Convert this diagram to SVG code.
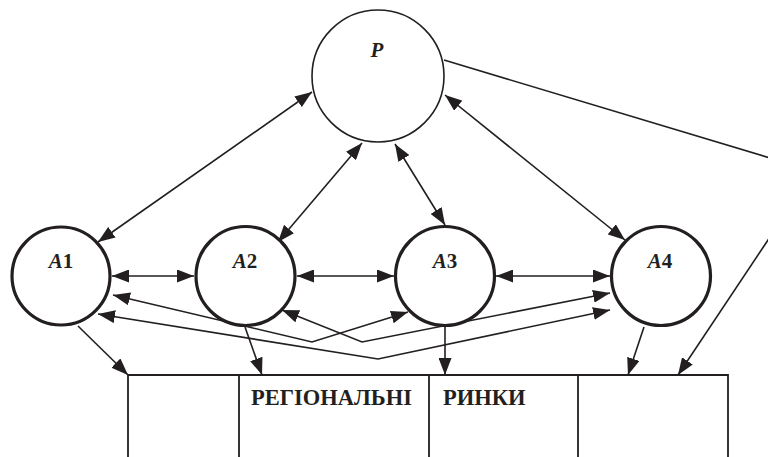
<svg xmlns="http://www.w3.org/2000/svg" width="768" height="457" viewBox="0 0 768 457">
<style>
.node{fill:#fff;stroke:#231f20;stroke-width:3.2}
.pnode{fill:#fff;stroke:#231f20;stroke-width:1.6}
.lbl{font-family:"Liberation Serif","Times New Roman",serif;font-weight:bold;font-size:21px;fill:#231f20}
.tbl{font-family:"Liberation Serif","Times New Roman",serif;font-weight:bold;font-size:22.5px;fill:#231f20}
.c{fill:none;stroke:#231f20;stroke-width:1.6}
.d{marker-start:url(#ah);marker-end:url(#ah)}
.s{marker-end:url(#ah)}
.t{fill:none;stroke:#231f20;stroke-width:1.8}
</style>
<defs>
<marker id="ah" viewBox="0 0 17 13" refX="17" refY="6.5" markerWidth="17" markerHeight="13" markerUnits="userSpaceOnUse" orient="auto-start-reverse">
<path d="M0,0 L17,6.5 L0,13 z" fill="#231f20"/>
</marker>
</defs>
<rect width="768" height="457" fill="#fff"/>
<g id="table">
<path class="t" d="M128,457 V375 H728 V457 M239,375 V457 M429,375 V457 M578,375 V457"/>
<text class="tbl" x="251" y="405">РЕГІОНАЛЬНІ</text>
<text class="tbl" x="443" y="405">РИНКИ</text>
</g>
<g id="connectors">
<line class="c d" x1="312" y1="92" x2="98" y2="242"/>
<line class="c d" x1="362" y1="143" x2="278" y2="242"/>
<line class="c d" x1="395" y1="144" x2="445" y2="225"/>
<line class="c d" x1="445" y1="95" x2="625" y2="240"/>
<line class="c d" x1="112" y1="276" x2="194" y2="276"/>
<line class="c d" x1="297" y1="276" x2="394" y2="276"/>
<line class="c d" x1="496" y1="276" x2="610" y2="276"/>
<polyline class="c d" points="113,295 312,342 408,312"/>
<polyline class="c d" points="282,310 362,342 610,293"/>
<polyline class="c d" points="98,314 378,359 610,310"/>
<line class="c s" x1="78" y1="326" x2="128" y2="375"/>
<line class="c s" x1="245" y1="327" x2="262" y2="375"/>
<line class="c s" x1="445" y1="327" x2="445" y2="375"/>
<line class="c s" x1="644" y1="327" x2="628" y2="375"/>
<path class="c s" d="M444,60 L790,164 L790,207 L678,375"/>
</g>
<g id="P">
<circle class="pnode" cx="378" cy="76" r="66"/>
<text class="lbl" x="377" y="57" text-anchor="middle" font-style="italic">P</text>
</g>
<g id="A1">
<circle class="node" cx="61" cy="276" r="49"/>
<text class="lbl" x="61" y="268" text-anchor="middle"><tspan font-style="italic">A</tspan>1</text>
</g>
<g id="A2">
<circle class="node" cx="245.5" cy="276" r="49.5"/>
<text class="lbl" x="245" y="268" text-anchor="middle"><tspan font-style="italic">A</tspan>2</text>
</g>
<g id="A3">
<circle class="node" cx="445" cy="276" r="49.5"/>
<text class="lbl" x="445" y="268" text-anchor="middle"><tspan font-style="italic">A</tspan>3</text>
</g>
<g id="A4">
<circle class="node" cx="661" cy="276" r="49.5"/>
<text class="lbl" x="660" y="268" text-anchor="middle"><tspan font-style="italic">A</tspan>4</text>
</g>
</svg>
